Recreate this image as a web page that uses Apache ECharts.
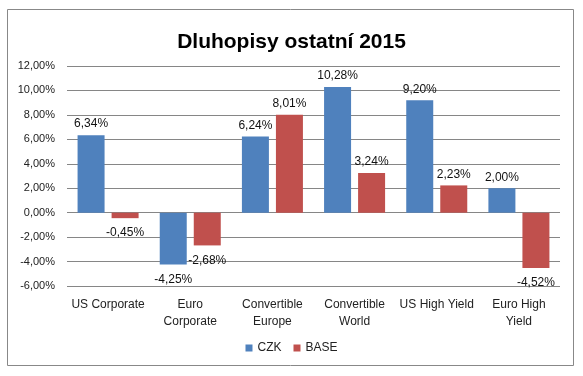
<!DOCTYPE html>
<html>
<head>
<meta charset="utf-8">
<script src="https://cdn.jsdelivr.net/npm/echarts@6/dist/echarts.min.js"></script>
<style>
  html, body { margin: 0; padding: 0; background: #fff; }
  #chart { width: 583px; height: 376px; }
</style>
</head>
<body>
<div id="chart"></div>
<script>
var categories = ['US Corporate', 'Euro\nCorporate', 'Convertible\nEurope', 'Convertible\nWorld', 'US High Yield', 'Euro High\nYield']
var czk = [6.34, -4.25, 6.24, 10.28, 9.20, 2.00]
var base = [-0.45, -2.68, 8.01, 3.24, 2.23, -4.52]
var seriesNames = ['CZK', 'BASE']

var fontFamily = '"Liberation Sans", Arial, sans-serif'

function pct(v) {
  return v.toFixed(2).replace('.', ',') + '%'
}

// Excel style: labels outside end, below bar for negative values
function withLabels(values) {
  return values.map(function(v) {
    return {
      value: v,
      label: v < 0 ? { position: 'bottom', distance: 9 } : { position: 'top', distance: 5 }
    }
  })
}

var chart = echarts.init(document.getElementById('chart'), null, { renderer: 'canvas' })

chart.setOption({
  backgroundColor: '#fff',
  animation: false,
  title: {
    text: 'Dluhopisy ostatní 2015',
    left: 'center',
    top: 27,
    textStyle: { fontFamily: fontFamily, fontSize: 21, fontWeight: 'bold', color: '#000' }
  },
  graphic: [{
    type: 'rect',
    shape: { x: 7.5, y: 9.5, width: 566, height: 356 },
    style: { fill: null, stroke: '#888', lineWidth: 1 },
    silent: true
  }],
  legend: {
    data: seriesNames,
    bottom: 17,
    left: 'center',
    itemWidth: 7,
    itemHeight: 7,
    itemGap: 12,
    icon: 'rect',
    textStyle: { fontFamily: fontFamily, fontSize: 12, color: '#222' }
  },
  grid: {
    left: 67,
    right: 23,
    top: 66,
    bottom: 90
  },
  xAxis: {
    type: 'category',
    data: categories,
    axisLine: { show: false, onZero: false },
    axisTick: { show: false },
    axisLabel: {
      fontFamily: fontFamily,
      fontSize: 12,
      color: '#222',
      margin: 10,
      lineHeight: 17,
      interval: 0
    }
  },
  yAxis: {
    type: 'value',
    min: -6,
    max: 12,
    interval: 2,
    axisLine: { show: false },
    axisTick: { show: false },
    splitLine: { lineStyle: { color: '#868686', width: 1 } },
    axisLabel: {
      fontFamily: fontFamily,
      fontSize: 11,
      color: '#222',
      margin: 12,
      formatter: function(v) { return pct(v) }
    }
  },
  series: [{
    name: seriesNames[0],
    type: 'bar',
    data: withLabels(czk),
    barWidth: 27,
    barGap: '26%',
    itemStyle: { color: '#4F81BD' },
    label: {
      show: true,
      fontFamily: fontFamily,
      fontSize: 12,
      color: '#111',
      formatter: function(p) { return pct(p.value) }
    }
  }, {
    name: seriesNames[1],
    type: 'bar',
    data: withLabels(base),
    barWidth: 27,
    barGap: '26%',
    itemStyle: { color: '#C0504D' },
    label: {
      show: true,
      fontFamily: fontFamily,
      fontSize: 12,
      color: '#111',
      formatter: function(p) { return pct(p.value) }
    }
  }]
})
</script>
</body>
</html>
